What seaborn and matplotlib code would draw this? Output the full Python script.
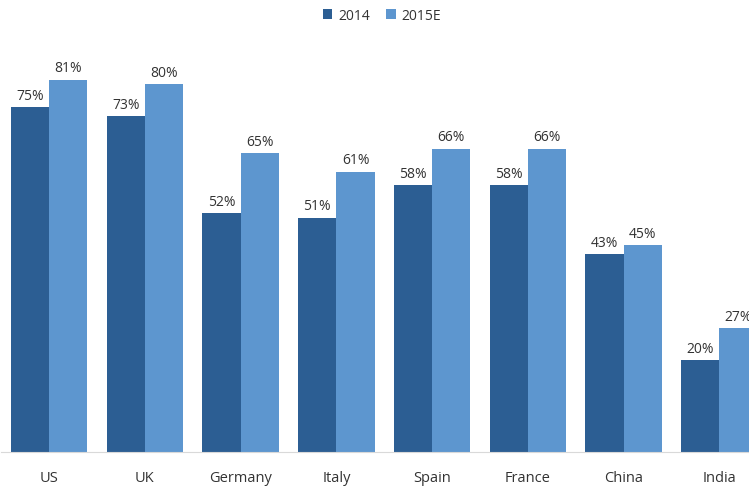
import pandas as pd
import seaborn as sns
import matplotlib.pyplot as plt

# data
countries = ['US', 'UK', 'Germany', 'Italy', 'Spain', 'France', 'China', 'India']
share_2014 = [75, 73, 52, 51, 58, 58, 43, 20]
share_2015e = [81, 80, 65, 61, 66, 66, 45, 27]
series = ['2014', '2015E']
colors = ['#2C5E93', '#5D96CF']

df = pd.DataFrame({
    'country': countries * 2,
    'value': share_2014 + share_2015e,
    'year': [series[0]] * len(countries) + [series[1]] * len(countries),
})

sns.set_theme(style='white')
plt.rcParams['font.family'] = ['Open Sans', 'DejaVu Sans']

fig = plt.figure(figsize=(7.49, 4.89), dpi=100)
ax = fig.add_axes([0.0017, 0.0736, 1.0227, 0.926])

sns.barplot(data=df, x='country', y='value', hue='year', palette=colors,
            width=0.8, saturation=1, linewidth=0, ax=ax, legend=True)

# value labels on top of each bar
for cont in ax.containers:
    ax.bar_label(cont, labels=[f'{v:.0f}%' for v in cont.datavalues],
                 padding=3, fontsize=10, color='#333333')

ax.set_ylim(0, 98.5)
ax.set_xlim(-0.5, 7.5)
ax.set_xlabel('')
ax.set_ylabel('')
ax.set_yticks([])
ax.tick_params(axis='x', labelsize=10.5, colors='#333333', length=0, pad=13)
for s in ['top', 'left', 'right']:
    ax.spines[s].set_visible(False)
ax.spines['bottom'].set_color('#D9D9D9')
ax.spines['bottom'].set_linewidth(0.8)

handles, labels = ax.get_legend_handles_labels()
ax.get_legend().remove()
fig.legend(handles, labels, loc='upper center', bbox_to_anchor=(0.51, 1.008),
           ncol=2, frameon=False, fontsize=10, handlelength=0.7, handleheight=0.7,
           handletextpad=0.4, columnspacing=1.2, labelcolor='#333333')

plt.savefig('out.png', dpi=100)
